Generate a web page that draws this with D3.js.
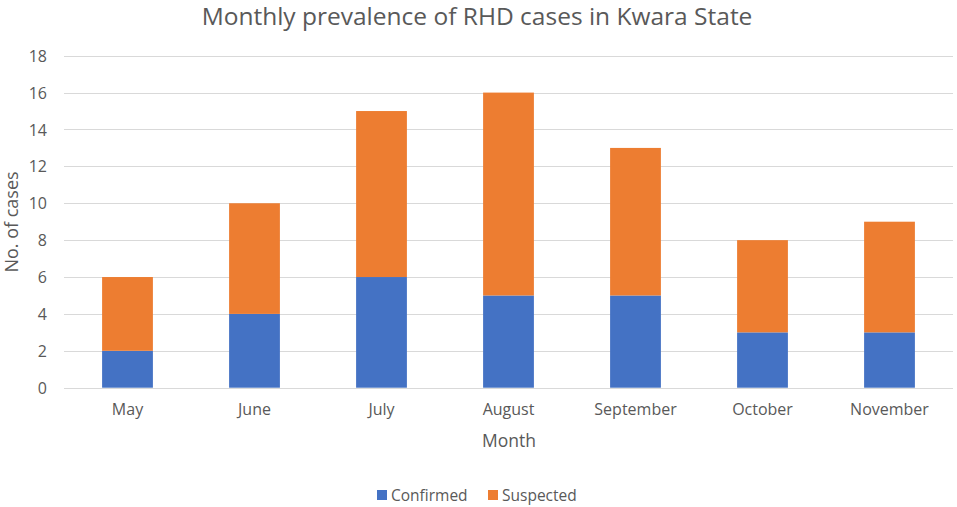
<!DOCTYPE html>
<html><head><meta charset="utf-8">
<script src="https://cdn.jsdelivr.net/npm/d3@7"></script>
<style>body{margin:0;background:#fff}svg{display:block}text{font-family:"Open Sans",sans-serif;fill:#595959}</style>
</head><body>
<script>
const months = ["May","June","July","August","September","October","November"];
const confirmed = [2,4,6,5,5,3,3];
const suspected = [4,6,9,11,8,5,6];
const yTicks = [0,2,4,6,8,10,12,14,16,18];
const seriesNames = ["Confirmed","Suspected"];
const colors = ["#4472c4","#ed7d31"];

const W=957,H=507;
const svg=d3.select("body").append("svg").attr("width",W).attr("height",H);
const x=d3.scaleBand().domain(months).range([64,953]).paddingInner(0.6).paddingOuter(0.3);
const y=d3.scaleLinear().domain([0,18]).range([387.7,55.7]);

svg.append("g").selectAll("line").data(yTicks).join("line")
  .attr("x1",64).attr("x2",953).attr("y1",d=>Math.round(y(d))+0.5).attr("y2",d=>Math.round(y(d))+0.5)
  .attr("stroke","#d9d9d9").attr("stroke-width",1);

const data=months.map((m,i)=>({month:m,Confirmed:confirmed[i],Suspected:suspected[i]}));
const stack=d3.stack().keys(seriesNames)(data);
svg.append("g").selectAll("g").data(stack).join("g").attr("fill",(d,i)=>colors[i])
  .selectAll("rect").data(d=>d).join("rect")
  .attr("x",d=>x(d.data.month)).attr("width",x.bandwidth())
  .attr("y",d=>y(d[1])).attr("height",d=>y(d[0])-y(d[1]));

const yAxis=d3.axisLeft(y).tickValues(yTicks).tickSize(0).tickPadding(0);
const ga=svg.append("g").attr("transform","translate(47,0)").attr("font-size",16).call(yAxis);
ga.select(".domain").remove();
ga.selectAll("text").style("font-size","16px").attr("fill","#595959").attr("dy","0.35em");

const xAxis=d3.axisBottom(x).tickSize(0).tickPadding(0);
const gx=svg.append("g").attr("transform","translate(0,404)").call(xAxis);
gx.select(".domain").remove();
gx.selectAll("text").style("font-size","16px").attr("fill","#595959").attr("dy","0.71em");

svg.append("text").attr("x",477).attr("y",25).attr("text-anchor","middle")
  .style("font-size","24.5px").text("Monthly prevalence of RHD cases in Kwara State");
svg.append("text").attr("x",509).attr("y",447).attr("text-anchor","middle")
  .style("font-size","17.5px").text("Month");
svg.append("text").attr("transform","translate(18,222) rotate(-90)").attr("text-anchor","middle")
  .style("font-size","18px").text("No. of cases");

const leg=svg.append("g");
const lx=[377,488];
seriesNames.forEach((s,i)=>{
  leg.append("rect").attr("x",lx[i]).attr("y",490).attr("width",10).attr("height",10).attr("fill",colors[i]);
  leg.append("text").attr("x",lx[i]+14).attr("y",501).style("font-size","15.5px").text(s);
});
</script>
</body></html>
